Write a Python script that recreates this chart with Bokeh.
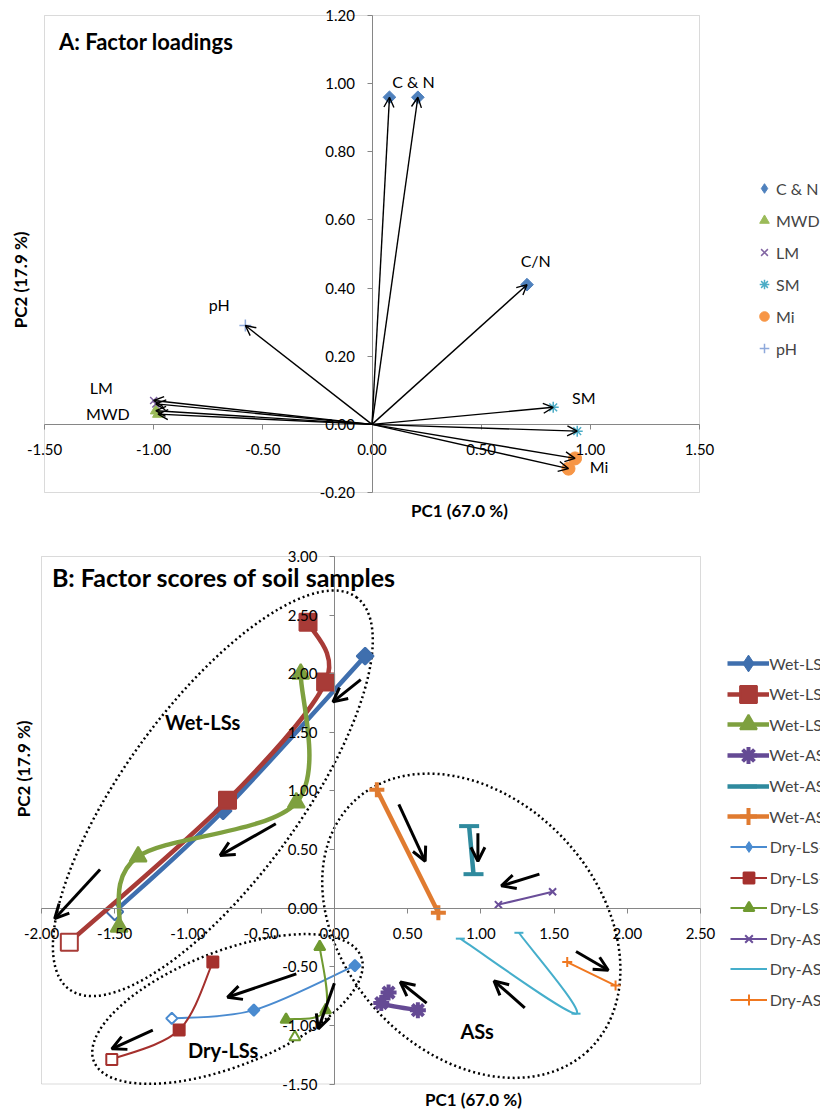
import math
from bokeh.plotting import figure
from bokeh.models import (Range1d, FixedTicker, NumeralTickFormatter, Arrow, OpenHead,
                          ColumnDataSource, Legend, LegendItem, Label, BoxAnnotation)
from bokeh.layouts import column
from bokeh.embed import file_html
from bokeh.resources import INLINE
from bokeh.core.properties import value

FONT = "Lato"
GREY = "#868686"

# ---------------- Panel A data: factor loadings ----------------
a_xlim = (-1.5, 1.5)
a_ylim = (-0.2, 1.2)
a_x_ticks = [-1.5, -1.0, -0.5, 0.0, 0.5, 1.0, 1.5]
a_y_ticks = [-0.2, 0.0, 0.2, 0.4, 0.6, 0.8, 1.0, 1.2]

cn_x = [0.08, 0.21, 0.71]
cn_y = [0.96, 0.96, 0.41]
mwd_x = [-0.99, -0.98]
mwd_y = [0.04, 0.03]
lm_x = [-1.00, -0.99]
lm_y = [0.07, 0.06]
sm_x = [0.83, 0.94]
sm_y = [0.05, -0.02]
mi_x = [0.93, 0.90]
mi_y = [-0.10, -0.13]
ph_x = [-0.58]
ph_y = [0.29]

# data labels (text annotations)
a_label_text = ["C & N", "C/N", "SM", "Mi", "pH", "LM", "MWD"]
a_label_x = [0.19, 0.75, 0.97, 1.04, -0.70, -1.24, -1.21]
a_label_y = [1.005, 0.48, 0.08, -0.125, 0.353, 0.109, 0.033]

# ---------------- Panel B data: factor scores ----------------
b_xlim = (-2.0, 2.5)
b_ylim = (-1.5, 3.0)
b_x_ticks = [-2.0, -1.5, -1.0, -0.5, 0.0, 0.5, 1.0, 1.5, 2.0, 2.5]
b_y_ticks = [-1.5, -1.0, -0.5, 0.0, 0.5, 1.0, 1.5, 2.0, 2.5, 3.0]

wet_ls1_x = [0.21, -0.76, -1.50]
wet_ls1_y = [2.15, 0.83, -0.03]
wet_ls2_x = [-0.18, -0.06, -0.73, -1.81]
wet_ls2_y = [2.44, 1.93, 0.92, -0.29]
wet_ls3_x = [-0.23, -0.26, -1.34, -1.47]
wet_ls3_y = [2.00, 0.90, 0.44, -0.16]
wet_as1_x = [0.37, 0.32, 0.57]
wet_as1_y = [-0.72, -0.81, -0.87]
wet_as2_x = [0.92, 0.95]
wet_as2_y = [0.70, 0.29]
wet_as3_x = [0.29, 0.71]
wet_as3_y = [1.01, -0.04]
dry_ls1_x = [0.14, -0.55, -1.11]
dry_ls1_y = [-0.49, -0.87, -0.94]
dry_ls2_x = [-0.83, -1.06, -1.52]
dry_ls2_y = [-0.46, -1.04, -1.29]
dry_ls3_x = [-0.10, -0.06, -0.33, -0.27]
dry_ls3_y = [-0.33, -0.87, -0.95, -1.10]
dry_as1_x = [1.12, 1.49]
dry_as1_y = [0.03, 0.14]
dry_as2_x = [0.86, 1.65, 1.26]
dry_as2_y = [-0.26, -0.90, -0.21]
dry_as3_x = [1.59, 1.92]
dry_as3_y = [-0.46, -0.66]

series_names = ["Wet-LS-1", "Wet-LS-2", "Wet-LS-3", "Wet-AS-1", "Wet-AS-2", "Wet-AS-3",
                "Dry-LS-1", "Dry-LS-2", "Dry-LS-3", "Dry-AS-1", "Dry-AS-2", "Dry-AS-3"]

# movement arrows (annotations): x_start, y_start, x_end, y_end
arrow_x0 = [0.18, -0.40, -1.60, -0.26, -1.24, 0.00, 0.63, 1.30, 1.65, 1.40, 0.98, 0.44]
arrow_y0 = [1.95, 0.72, 0.33, -0.56, -1.04, -0.64, -0.81, -0.85, -0.37, 0.29, 0.64, 0.885]
arrow_x1 = [-0.01, -0.78, -1.91, -0.73, -1.52, -0.11, 0.45, 1.09, 1.87, 1.14, 0.98, 0.62]
arrow_y1 = [1.76, 0.45, -0.09, -0.76, -1.20, -1.03, -0.63, -0.62, -0.53, 0.19, 0.40, 0.40]

# group outlines (annotations)
group_names = ["Wet-LSs", "Dry-LSs", "ASs"]
group_label_x = [-0.90, -0.76, 0.975]
group_label_y = [1.585, -1.21, -1.05]
ell_x = [-0.83, -0.73, 0.935]
ell_y = [0.98, -0.86, -0.15]
ell_w = [486, 287, 342]
ell_h = [175, 115, 254]
ell_angle = [53.8, 21.4, -47.0]


def ranges_for(xlim, ylim, fig_w, fig_h, left, right, top, bottom):
    """Extend the ranges so the frame fills the whole figure while the plot
    area (xlim x ylim) sits at the given pixel box."""
    ux = (right - left) / (xlim[1] - xlim[0])
    uy = (bottom - top) / (ylim[1] - ylim[0])
    xr = Range1d(xlim[0] - left / ux, xlim[1] + (fig_w - right) / ux)
    yr = Range1d(ylim[0] - (fig_h - bottom) / uy, ylim[1] + top / uy)
    return xr, yr


def make_fig(xlim, ylim, w, h, box, xt, yt):
    xr, yr = ranges_for(xlim, ylim, w, h, *box)
    p = figure(frame_width=w, frame_height=h, x_range=xr, y_range=yr,
               output_backend="svg", toolbar_location=None,
               min_border=0, min_border_left=0, min_border_right=0,
               min_border_top=0, min_border_bottom=0,
               background_fill_color="white", border_fill_color="white")
    p.outline_line_color = None
    p.xgrid.visible = False
    p.ygrid.visible = False
    p.xaxis.fixed_location = 0
    p.yaxis.fixed_location = 0
    p.xaxis.bounds = xlim
    p.yaxis.bounds = ylim
    p.xaxis.ticker = FixedTicker(ticks=xt)
    p.yaxis.ticker = FixedTicker(ticks=yt)
    for ax in (p.xaxis, p.yaxis):
        ax.formatter = NumeralTickFormatter(format="0.00")
        ax.axis_line_color = GREY
        ax.major_tick_line_color = GREY
        ax.minor_tick_line_color = None
        ax.major_tick_in = 0
        ax.major_tick_out = 5
        ax.major_label_text_font = FONT
        ax.major_label_text_font_size = "15px"
        ax.major_label_text_color = "black"
    p.xaxis.major_label_standoff = 15
    p.yaxis.major_label_standoff = 12
    p.add_layout(BoxAnnotation(left=xlim[0], right=xlim[1], bottom=ylim[0], top=ylim[1],
                               fill_alpha=0, line_color=GREY, line_width=1, level="underlay"))
    return p


def make_legend(items, loc, gw, gh, spacing, standoff):
    return Legend(items=items, location=loc, orientation="vertical", border_line_color=None,
                  background_fill_alpha=0, padding=0, margin=0, spacing=spacing,
                  glyph_width=gw, glyph_height=gh, label_height=20, label_standoff=standoff,
                  label_text_font=FONT, label_text_font_size="16px", label_text_baseline="middle")


# =================== Panel A ===================
pA = make_fig(a_xlim, a_ylim, 820, 525, (44, 699, 15, 492), a_x_ticks, a_y_ticks)

r_cn = pA.scatter(cn_x, cn_y, marker="square", angle=math.pi / 4, size=9, color="#4F81BD")
r_cn_key = pA.scatter(cn_x, cn_y, marker="diamond", size=12, color="#4F81BD", visible=False)
r_mwd = pA.scatter(mwd_x, mwd_y, marker="triangle", size=11, color="#9BBB59")
r_lm = pA.scatter(lm_x, lm_y, marker="x", size=10, line_color="#8064A2", line_width=1.5)
r_sm = pA.scatter(sm_x, sm_y, marker="asterisk", size=11, line_color="#4BACC6", line_width=1.5)
r_mi = pA.scatter(mi_x, mi_y, marker="circle", size=13, color="#F79646")
r_ph = pA.scatter(ph_x, ph_y, marker="cross", size=12, line_color="#8EA9DB", line_width=1.5)

all_x = cn_x + mwd_x + lm_x + sm_x + mi_x + ph_x
all_y = cn_y + mwd_y + lm_y + sm_y + mi_y + ph_y
a_src = ColumnDataSource(dict(x0=[0.0] * len(all_x), y0=[0.0] * len(all_x), x1=all_x, y1=all_y))
pA.add_layout(Arrow(end=OpenHead(size=10, line_width=1.4, line_color="black"),
                    x_start="x0", y_start="y0", x_end="x1", y_end="y1", source=a_src,
                    line_color="black", line_width=1.4))

pA.text(x=a_label_x, y=a_label_y, text=a_label_text, text_align="center", text_baseline="middle",
        text_font=value(FONT), text_font_size="16px", text_color="black")

pA.add_layout(Label(x=-1.434, y=1.124, text="A: Factor loadings", text_baseline="middle",
                    text_font=FONT, text_font_size="22px", text_font_style="bold", text_color="black"))
pA.add_layout(Label(x=0.179, y=-0.252, text="PC1 (67.0 %)", text_baseline="middle", text_align="left",
                    text_font=FONT, text_font_size="17px", text_font_style="bold", text_color="black"))
pA.add_layout(Label(x=-1.608, y=0.424, text="PC2 (17.9 %)", text_baseline="middle", text_align="center",
                    angle=math.pi / 2, text_font=FONT, text_font_size="17px", text_font_style="bold",
                    text_color="black"))

legA = make_legend([LegendItem(label="C & N", renderers=[r_cn_key]),
                    LegendItem(label="MWD", renderers=[r_mwd]),
                    LegendItem(label="LM", renderers=[r_lm]),
                    LegendItem(label="SM", renderers=[r_sm]),
                    LegendItem(label="Mi", renderers=[r_mi]),
                    LegendItem(label="pH", renderers=[r_ph])],
                   (752, 164), 24, 26, 6, 0)
pA.add_layout(legA)

# =================== Panel B ===================
B_H = 586
pB = make_fig(b_xlim, b_ylim, 820, B_H, (41, 700, 31, 558.5), b_x_ticks, b_y_ticks)

pB.ellipse(x=ell_x, y=ell_y, width=ell_w, height=ell_h, angle=ell_angle, angle_units="deg",
           width_units="screen", height_units="screen", fill_color=None,
           line_color="black", line_width=2.5, line_dash="2 3")


def smooth(xs, ys):
    n = len(xs)
    out = dict(x0=[], y0=[], x1=[], y1=[], cx0=[], cy0=[], cx1=[], cy1=[])
    for i in range(n - 1):
        i0 = max(i - 1, 0)
        i3 = min(i + 2, n - 1)
        out["x0"].append(xs[i]); out["y0"].append(ys[i])
        out["x1"].append(xs[i + 1]); out["y1"].append(ys[i + 1])
        out["cx0"].append(xs[i] + (xs[i + 1] - xs[i0]) / 6.0)
        out["cy0"].append(ys[i] + (ys[i + 1] - ys[i0]) / 6.0)
        out["cx1"].append(xs[i + 1] - (xs[i3] - xs[i]) / 6.0)
        out["cy1"].append(ys[i + 1] - (ys[i3] - ys[i]) / 6.0)
    return out


# x, y, colour, marker, wet?, hollow last point?, line reaches last point?
b_series = [
    (wet_ls1_x, wet_ls1_y, "#3F6FAE", "diamond", True, True, True),
    (wet_ls2_x, wet_ls2_y, "#A83B37", "square", True, True, True),
    (wet_ls3_x, wet_ls3_y, "#7EA03F", "triangle", True, False, True),
    (wet_as1_x, wet_as1_y, "#654A94", "asterisk", True, False, True),
    (wet_as2_x, wet_as2_y, "#2F8A9E", "dash", True, False, True),
    (wet_as3_x, wet_as3_y, "#E07B30", "cross", True, False, True),
    (dry_ls1_x, dry_ls1_y, "#4A8BD0", "diamond", False, True, True),
    (dry_ls2_x, dry_ls2_y, "#A5302D", "square", False, True, True),
    (dry_ls3_x, dry_ls3_y, "#6F9A30", "triangle", False, True, False),
    (dry_as1_x, dry_as1_y, "#6A4E99", "x", False, False, True),
    (dry_as2_x, dry_as2_y, "#45AECB", "dash", False, False, True),
    (dry_as3_x, dry_as3_y, "#F07820", "cross", False, False, True),
]

marker_style = {
    # marker: (bokeh marker, angle, wet size, dry size)
    "diamond": ("square", math.pi / 4, 12, 8),
    "square": ("square", 0.0, 17, 11),
    "triangle": ("triangle", 0.0, 17, 11),
    "dash": ("dash", 0.0, 20, 9),
    "asterisk": ("asterisk", 0.0, 16, 10),
    "cross": ("cross", 0.0, 15, 10),
    "x": ("x", 0.0, 14, 10),
}

legend_rows = []
for name, (xs, ys, col, mk, wet, hollow_last, connect_last) in zip(series_names, b_series):
    lx, ly = (xs, ys) if connect_last else (xs[:-1], ys[:-1])
    seg = smooth(lx, ly)
    lr = pB.bezier(x0="x0", y0="y0", x1="x1", y1="y1", cx0="cx0", cy0="cy0", cx1="cx1", cy1="cy1",
                   source=ColumnDataSource(seg), line_color=col, line_width=4.5 if wet else 2.0)
    fills = [col] * len(xs)
    if hollow_last:
        fills[-1] = "white"
    mk_use, ang, wsz, dsz = marker_style[mk]
    lw = 4.0 if (wet and mk in ("dash", "asterisk", "cross", "x")) else 2.0
    src = ColumnDataSource(dict(x=xs, y=ys, fc=fills))
    sr = pB.scatter(x="x", y="y", source=src, marker=mk_use, angle=ang, size=wsz if wet else dsz,
                    fill_color="fc", line_color=col, line_width=lw)
    key = sr
    if mk == "diamond":
        key = pB.scatter(x="x", y="y", source=src, marker="diamond", size=wsz, color=col, visible=False)
    legend_rows.append((LegendItem(label=name, renderers=[lr, key]), wet))

b_src = ColumnDataSource(dict(x0=arrow_x0, y0=arrow_y0, x1=arrow_x1, y1=arrow_y1))
pB.add_layout(Arrow(end=OpenHead(size=14, line_width=3, line_color="black"),
                    x_start="x0", y_start="y0", x_end="x1", y_end="y1", source=b_src,
                    line_color="black", line_width=3))

pB.text(x=group_label_x, y=group_label_y, text=group_names, text_align="center", text_baseline="middle",
        text_font=value(FONT), text_font_size="20px", text_font_style="bold", text_color="black")

pB.add_layout(Label(x=-1.929, y=2.828, text="B: Factor scores of soil samples", text_baseline="middle",
                    text_font=FONT, text_font_size="25px", text_font_style="bold", text_color="black"))
pB.add_layout(Label(x=0.619, y=-1.629, text="PC1 (67.0 %)", text_baseline="middle", text_align="left",
                    text_font=FONT, text_font_size="17px", text_font_style="bold", text_color="black"))
pB.add_layout(Label(x=-2.124, y=1.188, text="PC2 (17.9 %)", text_baseline="middle", text_align="center",
                    angle=math.pi / 2, text_font=FONT, text_font_size="17px", text_font_style="bold",
                    text_color="black"))

# one legend per row so that wet (large) and dry (small) keys keep a common row pitch
ROW0, PITCH, KEY_CX = 138.3, 30.55, 748.3   # first row centre from the top of panel B, px
for i, (item, wet) in enumerate(legend_rows):
    gw, gh, so = (42, 42, 0) if wet else (37, 27, 3)
    cy = ROW0 + i * PITCH
    loc = (KEY_CX - gw / 2.0, B_H - cy - gh / 2.0)
    pB.add_layout(make_legend([item], loc, gw, gh, 0, so))

layout = column(pA, pB, spacing=0)
open("out.html", "w").write(file_html(layout, INLINE))
